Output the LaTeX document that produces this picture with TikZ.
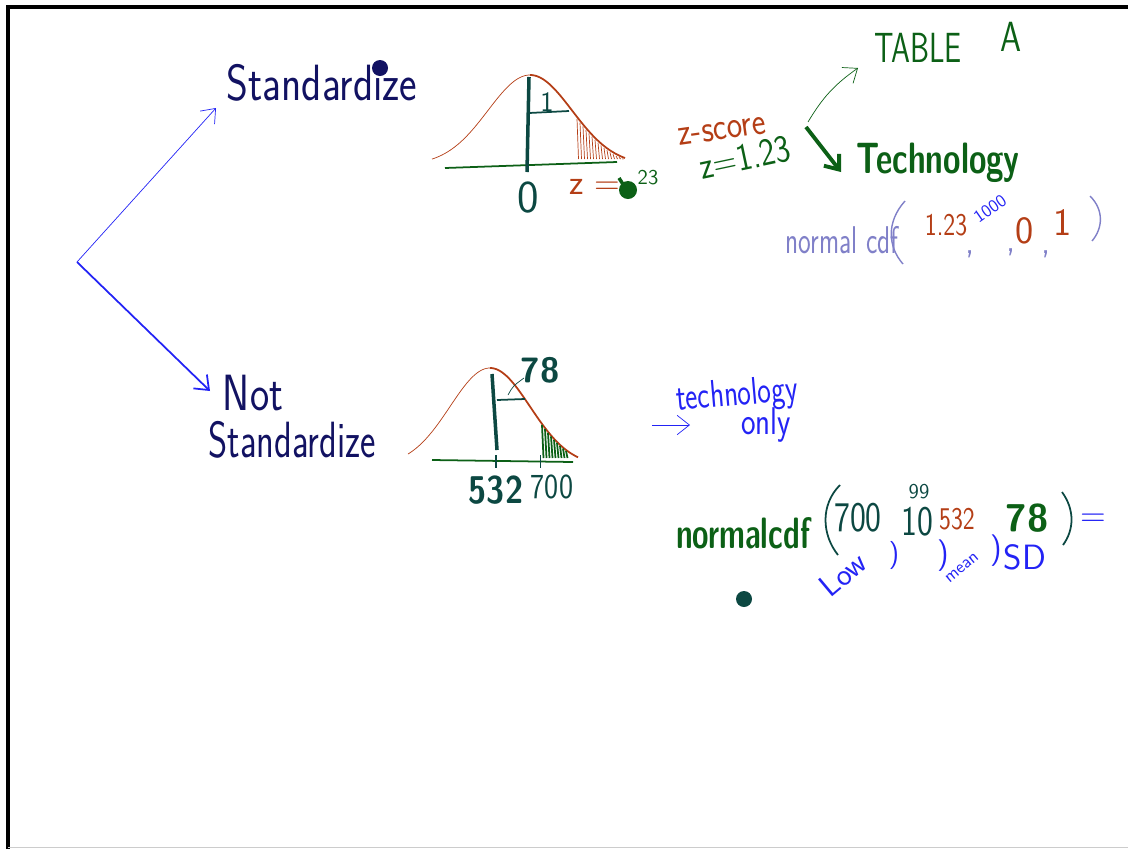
\documentclass[tikz,border=0pt]{standalone}
\usetikzlibrary{arrows.meta}
\definecolor{navyink}{RGB}{18,18,98}
\definecolor{blueink}{RGB}{35,35,245}
\definecolor{rustink}{RGB}{180,62,22}
\definecolor{greenink}{RGB}{12,96,22}
\definecolor{tealink}{RGB}{12,72,66}
\definecolor{lavink}{RGB}{128,128,200}
\newcommand{\pen}[1]{\fontsize{#1}{#1}\selectfont\sffamily}

\begin{document}
\begin{tikzpicture}[x=0.02cm,y=-0.02cm,
  hand/.style={inner sep=0pt, anchor=center},
  barb/.style={-{Straight Barb[length=7pt,width=11pt]}},
  declare function={bellA(\t)=165-90*exp(-((\t-530)/42)^2/2);
                    bellB(\t)=466-98*exp(-((\t-490)/40)^2/2);}]
  % page frame (pixel grid, y downwards)
  \useasboundingbox (0,0) rectangle (1128,849);
  \draw[black, line width=2.2pt] (8,849) -- (8,7) -- (1128,7);
  \draw[black!20, line width=0.8pt] (8,847.5) -- (1128,847.5);

  % the two branches
  \coordinate (fork) at (77,262);
  \coordinate (stdtip) at (216,108);
  \coordinate (nottip) at (210,391);
  \draw[blueink, thin, barb] (fork) -- (stdtip);
  \draw[blueink, line width=1pt, barb] (fork) -- (nottip);
  \node[hand, navyink, xscale=0.82] (std) at (322,83) {\pen{29}Standardize};
  \fill[navyink] (380,68) circle (8);
  \node[hand, navyink, xscale=0.8] (notw) at (253,393) {\pen{29}Not};
  \node[hand, navyink, xscale=0.72] (notstd) at (292,440) {\pen{29}Standardize};

  % standard normal curve
  \draw[rustink, thin] plot[domain=432:530, samples=60] (\x,{bellA(\x)});
  \draw[rustink, line width=1pt] plot[domain=530:625, samples=60] (\x,{bellA(\x)});
  \draw[greenink, line width=1pt] (445,168) -- (617,162);
  \draw[tealink, line width=2pt] (529,77) -- (527,172);
  \draw[tealink, line width=1pt] (529,113) -- (569,111);
  \foreach \h in {577,580,...,622}
    \draw[rustink, thin] (\h,{bellA(\h)+2}) -- (\h+1.5,159);
  \node[hand, tealink] (sdA) at (547,102) {\pen{16}1};
  \node[hand, tealink] (zero) at (528,198) {\pen{26}0};
  \node[hand, rustink] (zeq) at (595,187) {\pen{20}z =};
  \draw[greenink, line width=2pt] (619,178) -- (626,189);
  \fill[greenink] (628,190) circle (9);
  \node[hand, greenink] (zsup) at (648,178) {\pen{12}23};

  % z-score and the two routes
  \node[hand, rustink, rotate=8, xscale=0.85] (zscore) at (722,131) {\pen{22}z-score};
  \node[hand, greenink, rotate=12, xscale=0.85] (zval) at (745,157) {\pen{22}z=1.23};
  \coordinate (split) at (808,122);
  \coordinate (tabtip) at (858,68);
  \coordinate (techtail) at (806,127);
  \coordinate (techtip) at (841,172);
  \draw[greenink, thin, barb] (split) to[bend left=12] (tabtip);
  \draw[greenink, line width=2.2pt, barb] (techtail) -- (techtip);
  \node[hand, greenink, xscale=0.72] (tabl) at (918,48) {\pen{24}TABLE};
  \node[hand, greenink, xscale=0.8] (tabA) at (1011,37) {\pen{24}A};
  \node[hand, greenink, xscale=0.72] (tech) at (938,163) {\pen{25}\bfseries Technology};

  % calculator line, standardized
  \node[hand, lavink, xscale=0.7] (ncdfA) at (842,240) {\pen{22}normal cdf};
  \draw[lavink, line width=0.8pt] (905,201) .. controls (886,222) and (888,247) .. (903,264);
  \node[hand, rustink, xscale=0.8] (lowA) at (946,225) {\pen{18}1.23};
  \node[hand, blueink, rotate=35] (upA) at (990,209) {\pen{10}1000};
  \node[hand, rustink] (muA) at (1025,231) {\pen{22}0};
  \node[hand, rustink] (sigA) at (1063,223) {\pen{22}1};
  \node[hand, lavink] (cmA) at (970,254) {\pen{20},};
  \node[hand, lavink] (cmB) at (1011,252) {\pen{20},};
  \node[hand, lavink] (cmC) at (1046,254) {\pen{20},};
  \draw[lavink, line width=0.8pt] (1090,196) .. controls (1104,210) and (1103,228) .. (1092,241);

  % raw normal curve
  \draw[rustink, thin] plot[domain=408:490, samples=60] (\x,{bellB(\x)});
  \draw[rustink, line width=1pt] plot[domain=490:578, samples=60] (\x,{bellB(\x)});
  \draw[greenink, line width=1pt] (432,460) -- (573,462);
  \draw[tealink, line width=2pt] (492,374) -- (497,450);
  \draw[tealink, line width=1pt] (496,455) -- (496,468);
  \draw[tealink, thin] (540,455) -- (540,468);
  \draw[tealink, line width=1pt] (497,400) -- (525,399);
  \draw[tealink, thin] (508,395) .. controls (513,386) .. (524,378);
  \foreach \h in {542,545,...,567}
    \draw[greenink, line width=1pt] (\h,{bellB(\h)+1}) -- (\h+1.5,458);
  \node[hand, tealink] (sdB) at (540,370) {\pen{20}\bfseries 78};
  \node[hand, tealink, xscale=0.85] (meanB) at (496,490) {\pen{22}\bfseries 532};
  \node[hand, tealink, xscale=0.85] (cut) at (552,487) {\pen{20}700};

  % technology only
  \coordinate (onlytail) at (652,425);
  \coordinate (onlytip) at (690,425);
  \draw[blueink, thin, barb] (onlytail) -- (onlytip);
  \node[hand, blueink, rotate=5, xscale=0.75] (techw) at (737,396) {\pen{22}technology};
  \node[hand, blueink, xscale=0.8] (only) at (766,425) {\pen{22}only};

  % calculator line, raw values
  \node[hand, greenink, xscale=0.68] (ncdfB) at (743,533) {\pen{25}\bfseries normalcdf};
  \draw[tealink, line width=1pt] (840,485) .. controls (820,505) and (822,535) .. (838,555);
  \node[hand, tealink, xscale=0.8] (lowB) at (858,518) {\pen{24}700};
  \node[hand, tealink, xscale=0.8] (upB) at (917,522) {\pen{24}10};
  \node[hand, tealink] (expB) at (919,492) {\pen{12}99};
  \node[hand, rustink, xscale=0.8] (muB) at (957,519) {\pen{18}532};
  \node[hand, greenink] (sigB) at (1027,518) {\pen{22}\bfseries 78};
  \draw[tealink, line width=1pt] (1062,492) .. controls (1075,510) and (1074,530) .. (1063,545);
  \node[hand, blueink] (eqB) at (1093,520) {\pen{20}=};
  \node[hand, blueink, rotate=40] (lowlab) at (843,574) {\pen{18}Low};
  \node[hand, blueink] (cmD) at (894,555) {\pen{16})};
  \node[hand, blueink] (cmE) at (943,556) {\pen{18})};
  \node[hand, blueink, rotate=40] (meanlab) at (962,568) {\pen{10}mean};
  \node[hand, blueink] (cmF) at (996,551) {\pen{18})};
  \node[hand, blueink] (sdlab) at (1025,557) {\pen{20}SD};
  \fill[tealink] (744,599) circle (8);
\end{tikzpicture}
\end{document}
